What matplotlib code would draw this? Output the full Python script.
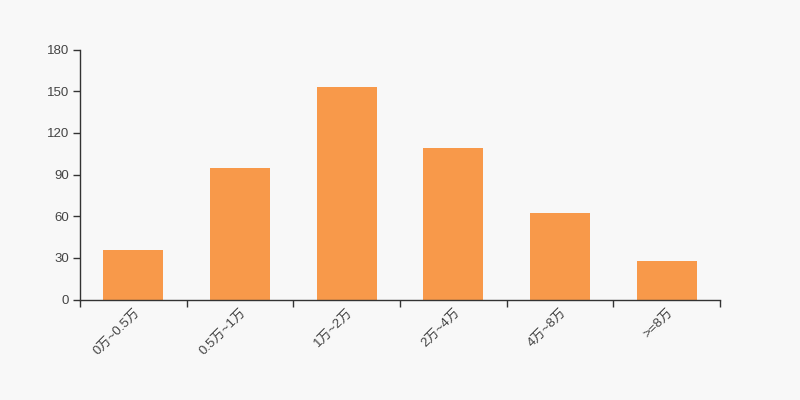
import matplotlib
matplotlib.use("Agg")
import matplotlib.pyplot as plt
import numpy as np

plt.rcParams['font.family'] = ['Liberation Sans', 'Noto Sans CJK SC', 'DejaVu Sans']

categories = ["0万~0.5万", "0.5万~1万", "1万~2万", "2万~4万", "4万~8万", ">=8万"]
values = [36, 95, 153, 109, 62, 28]
y_ticks = [0, 30, 60, 90, 120, 150, 180]

bg = "#f8f8f8"
bar_color = "#f8994a"
axis_color = "#333333"
text_color = "#444444"

fig = plt.figure(figsize=(8, 4), dpi=100, facecolor=bg)
ax = fig.add_axes([0.1, 0.25125, 0.8, 0.625])
ax.set_facecolor(bg)

x = np.arange(len(categories))
ax.bar(x, values, width=0.5625, color=bar_color, zorder=2)

ax.set_xlim(-0.5, len(categories) - 0.5)
ax.set_ylim(0, 180)
ax.set_yticks(y_ticks)
ax.set_yticklabels([str(v) for v in y_ticks], fontsize=9.5, color=text_color)

ax.set_xticks(np.arange(-0.5, len(categories), 1.0))
ax.set_xticklabels([])
ax.set_xticks(x, minor=True)
ax.set_xticklabels(categories, minor=True, rotation=45, ha='right', va='top',
                   rotation_mode='anchor', fontsize=9.5, color=text_color)
ax.tick_params(axis='x', which='minor', length=0, pad=5)
ax.tick_params(axis='x', which='major', length=5, width=1, color=axis_color)
ax.tick_params(axis='y', length=5, width=1, color=axis_color, pad=3)

for s in ['top', 'right']:
    ax.spines[s].set_visible(False)
for s in ['left', 'bottom']:
    ax.spines[s].set_color(axis_color)
    ax.spines[s].set_linewidth(1)

fig.savefig("out.png", dpi=100, facecolor=bg)
